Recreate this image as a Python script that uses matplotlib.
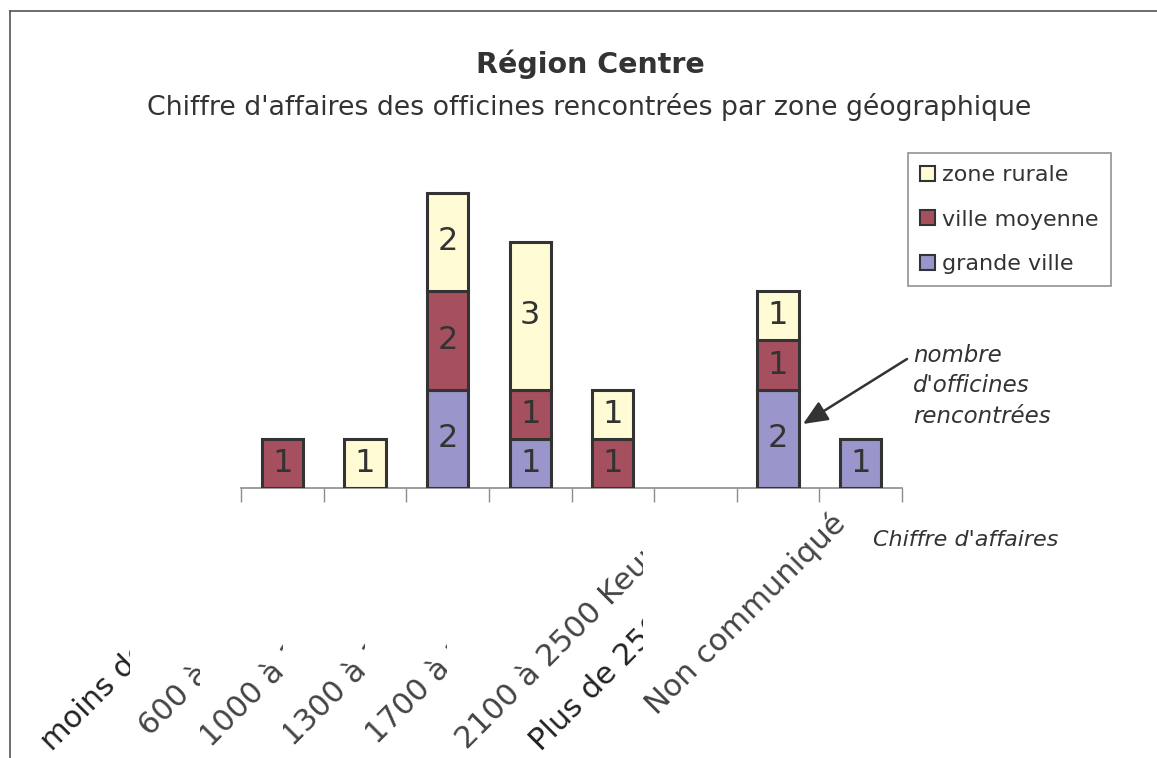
import matplotlib
matplotlib.use("Agg")
import matplotlib.pyplot as plt
from matplotlib.patches import Patch
from matplotlib.lines import Line2D
from matplotlib.transforms import Bbox, offset_copy

# ---- data ----
categories = [
    "moins de 600 Keuros",
    "600 à 1000 Keuros",
    "1000 à 1300 Keuros",
    "1300 à 1700 Keuros",
    "1700 à 2100 Keuros",
    "2100 à 2500 Keuros",
    "Plus de 2500 Keuros",
    "Non communiqué",
]
grande_ville = [0, 0, 2, 1, 0, 0, 2, 1]
ville_moyenne = [1, 0, 2, 1, 1, 0, 1, 0]
zone_rurale = [0, 1, 2, 3, 1, 0, 1, 0]
series_names = ["grande ville", "ville moyenne", "zone rurale"]

title = "Région Centre"
subtitle = "Chiffre d'affaires des officines rencontrées par zone géographique"
xlabel = "Chiffre d'affaires"
note = "nombre\nd'officines\nrencontrées"

# ---- styling ----
W, H, DPI = 1157, 758, 100
colors = ["#9A95CA", "#A6505F", "#FFFBD5"]
edge = "#333333"
txt = "#333333"

fig = plt.figure(figsize=(W / DPI, H / DPI), dpi=DPI)
fig.patch.set_facecolor("white")

def fx(px):
    return px / W

def fy(py):
    return 1 - py / H

# outer frame (left and top edges)
fig.add_artist(Line2D([fx(10), fx(10)], [fy(11), 0], color="#555555", lw=1.2))
fig.add_artist(Line2D([fx(10), 1], [fy(11), fy(11)], color="#555555", lw=1.2))

# plotting area
ax_left, ax_right, ax_bottom, ax_top = 241, 902, 488, 140
ax = fig.add_axes([fx(ax_left), fy(ax_bottom), fx(ax_right - ax_left),
                   (ax_bottom - ax_top) / H])
n = len(categories)
unit_px = 49.2
ax.set_xlim(-0.5, n - 0.5)
ax.set_ylim(0, (ax_bottom - ax_top) / unit_px)
for s in ["left", "right", "top"]:
    ax.spines[s].set_visible(False)
ax.spines["bottom"].set_color("#8c8c8c")
ax.spines["bottom"].set_linewidth(1.2)
ax.set_yticks([])
ax.set_xticks([i - 0.5 for i in range(n + 1)])
ax.set_xticklabels([])
ax.tick_params(axis="x", length=10, width=1.0, color="#8c8c8c", direction="out")
ax.patch.set_alpha(0)

# stacked bars with value labels (empty segments are skipped)
bottoms = [0] * n
for name, vals, col in zip(series_names, [grande_ville, ville_moyenne, zone_rurale], colors):
    idx = [i for i, v in enumerate(vals) if v > 0]
    ax.bar(idx, [vals[i] for i in idx], width=0.5, bottom=[bottoms[i] for i in idx],
           color=col, edgecolor=edge, linewidth=2.2, label=name, zorder=3)
    for i in idx:
        ax.text(i, bottoms[i] + vals[i] / 2, str(vals[i]), ha="center", va="center",
                fontsize=23, color=txt, zorder=4)
    bottoms = [b + v for b, v in zip(bottoms, vals)]

# rotated category labels, each confined to its own strip
label_offsets = [(-230, -264), (-215, -249), (-237, -260), (-237, -259),
                 (-236, -257), (-228, -262), (-237, -264), (-204, -228)]
label_strips = [(0, 130), (130, 200), (200, 283), (283, 365), (365, 447),
                (447, 643), (447, 643), (643, 880)]
label_colors = ["#222222", "#444444", "#444444", "#444444", "#444444",
                "#444444", "#222222", "#444444"]
base = ax.get_xaxis_transform()
for i, (lab, (dx, dy), (x0, x1), c) in enumerate(zip(categories, label_offsets,
                                                       label_strips, label_colors)):
    tr = offset_copy(base, fig=fig, x=dx, y=dy, units="dots")
    t = ax.text(i, 0, lab, transform=tr, rotation=45, rotation_mode="anchor",
                ha="left", va="baseline", fontsize=22, color=c)
    t.set_clip_box(Bbox.from_extents(x0, 0, x1, H))
    t.set_clip_on(True)

# titles
fig.text(fx(590), fy(73), title, ha="center", va="baseline", fontsize=20.5,
         fontweight="bold", color=txt)
fig.text(fx(589), fy(115), subtitle, ha="center", va="baseline", fontsize=19.3,
         color=txt)
fig.text(fx(966), fy(540), xlabel, ha="center", va="center", fontsize=16,
         style="italic", color=txt)

# annotation arrow
ax.annotate("", xy=(fx(803), fy(424)), xycoords="figure fraction",
            xytext=(fx(907), fy(359)), textcoords="figure fraction",
            arrowprops=dict(arrowstyle="-|>,head_length=1.5,head_width=0.65",
                            color="#333333", lw=1.8, shrinkA=0, shrinkB=0))
fig.text(fx(913), fy(386), note, ha="left", va="center", fontsize=16.5,
         style="italic", color=txt, linespacing=1.4)

# legend (top series first)
handles = [Patch(facecolor=colors[k], edgecolor=edge, linewidth=1.5) for k in (2, 1, 0)]
labels = [series_names[k] for k in (2, 1, 0)]
leg = fig.legend(handles, labels, loc="upper left",
                 bbox_to_anchor=(fx(908), fy(153)), bbox_transform=fig.transFigure,
                 borderaxespad=0, frameon=True, fancybox=False, fontsize=16,
                 handlelength=0.65, handleheight=0.65, handletextpad=0.35,
                 labelspacing=1.1, borderpad=0.55, labelcolor=txt)
leg.get_frame().set_edgecolor("#777777")
leg.get_frame().set_linewidth(1.2)

fig.savefig("out.png", dpi=DPI, facecolor="white")
